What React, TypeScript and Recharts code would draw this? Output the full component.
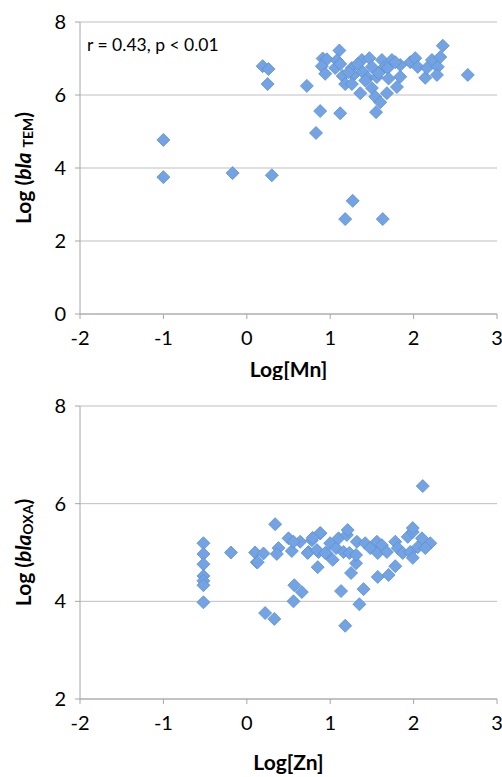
import React from 'react';
import { ScatterChart, Scatter, XAxis, YAxis, CartesianGrid } from 'recharts';

// Log[Mn] vs Log(bla TEM)
const mnX = [
  -1.0, -1.0, -0.17, 0.3, 1.27, 1.18, 1.63, 0.19, 0.26, 0.25, 0.72, 0.88, 1.12, 0.83, 1.55, 2.65, 2.35, 1.11,
  0.91, 0.96, 1.08, 0.9, 0.94, 1.06, 1.15, 1.18, 1.26, 1.28, 1.26, 1.38, 1.39, 1.47, 1.5, 1.45, 1.36, 1.5,
  1.56, 1.62, 1.64, 1.54, 1.6, 1.68, 1.8, 1.84, 1.69, 1.74, 1.84, 1.96, 2.02, 2.05, 2.14, 2.16, 2.22, 2.29,
  2.28, 2.32, 1.33, 1.42, 1.58, 1.22, 1.78, 1.12, 1.7,
];
const temY = [
  4.77, 3.75, 3.86, 3.8, 3.1, 2.6, 2.6, 6.79, 6.71, 6.3, 6.25, 5.56, 5.5, 4.96, 5.53, 6.55, 7.35, 7.22,
  7.0, 6.98, 6.95, 6.79, 6.58, 6.74, 6.52, 6.3, 6.74, 6.55, 6.3, 6.96, 6.63, 7.01, 6.77, 6.47, 6.05, 6.19,
  6.49, 6.96, 6.74, 5.95, 5.8, 6.05, 6.22, 6.5, 6.74, 6.96, 6.82, 6.9, 7.01, 6.77, 6.47, 6.74, 6.96, 6.77,
  6.55, 7.04, 6.85, 6.4, 6.6, 6.62, 6.9, 6.85, 6.45,
];

// Log[Zn] vs Log(bla OXA)
const znX = [
  -0.52, -0.52, -0.52, -0.52, -0.52, -0.52, -0.52, -0.19, 0.1, 0.12, 0.2, 0.22, 0.33, 0.34,
  0.57, 0.66, 0.56, 0.85, 1.13, 1.18, 1.35, 1.4, 1.25, 1.31, 1.57, 1.7, 1.78, 2.11,
  0.38, 0.5, 0.54, 0.64, 0.74, 0.78, 0.88, 0.86, 0.95, 1.0, 1.03, 1.07, 1.1, 1.2, 1.16, 1.23,
  1.32, 1.31, 1.42, 1.48, 1.56, 1.57, 1.62, 1.68, 1.78, 1.81, 1.87, 1.93, 1.96, 1.99, 1.99,
  2.05, 2.1, 2.2, 2.14, 1.99, 0.88, 1.21, 0.36, 0.73, 0.84, 0.94, 0.13, 0.79, 0.56,
];
const oxaY = [
  5.19, 4.97, 4.76, 4.52, 4.42, 4.33, 3.98, 5.0, 5.0, 4.8, 4.98, 3.76, 3.64, 5.58,
  4.33, 4.19, 4.0, 4.7, 4.21, 3.5, 3.94, 4.25, 4.58, 4.78, 4.5, 4.54, 4.72, 6.36,
  5.09, 5.29, 5.03, 5.22, 5.01, 5.25, 5.39, 5.01, 4.99, 5.19, 4.85, 5.09, 5.29, 5.36, 5.01, 4.99,
  5.22, 4.95, 5.19, 5.09, 5.22, 4.99, 5.15, 5.01, 5.22, 5.09, 4.99, 5.32, 5.01, 4.89, 5.42,
  5.11, 5.29, 5.19, 5.09, 5.5, 5.4, 5.46, 4.97, 4.99, 5.05, 4.99, 4.8, 5.3, 5.22,
];

const xTicks = [-2, -1, 0, 1, 2, 3];
const temTicks = [0, 2, 4, 6, 8];
const oxaTicks = [2, 4, 6, 8];

const mnData = mnX.map((x, i) => ({ x, y: temY[i] }));
const znData = znX.map((x, i) => ({ x, y: oxaY[i] }));

const FONT = 'Lato, "Open Sans", sans-serif';
const AXIS = '#a6a6a6';
const GRID = '#bfbfbf';

const Diamond = (p: any) => {
  const { cx, cy } = p;
  if (cx == null || cy == null) return null;
  const r = 6.5;
  return (
    <polygon
      points={`${cx},${cy - r} ${cx + r},${cy} ${cx},${cy + r} ${cx - r},${cy}`}
      fill="#73a3e3"
      stroke="#5a8fd3"
      strokeWidth={0.8}
    />
  );
};

const YTitle = ({ viewBox, sub, gap }: any) => {
  const cy = viewBox.y + viewBox.height / 2;
  return (
    <text
      x={22}
      y={cy}
      transform={`rotate(-90, 22, ${cy})`}
      textAnchor="middle"
      dominantBaseline="central"
      fontFamily={FONT}
      fontWeight="bold"
      fontSize={21}
      fill="#000"
    >
      Log (<tspan fontStyle="italic">bla</tspan>
      <tspan fontSize={14} dy={5} dx={gap ? 5 : 0}>{sub}</tspan>
      <tspan dy={-5}>)</tspan>
    </text>
  );
};

const XTitle = ({ viewBox, text, dy }: any) => (
  <text
    x={viewBox.x + viewBox.width / 2}
    y={viewBox.y + dy}
    textAnchor="middle"
    dominantBaseline="central"
    fontFamily={FONT}
    fontWeight="bold"
    fontSize={21}
    fill="#000"
  >
    {text}
  </text>
);

const tickStyle = { fontFamily: FONT, fontSize: 20, fill: '#000' };

export default function App() {
  return (
    <div style={{ position: 'absolute', left: 0, top: 0, width: 502, height: 777, background: '#fff' }}>
      <ScatterChart width={502} height={380} margin={{ top: 22, right: 5, bottom: 0, left: 0 }}>
        <CartesianGrid vertical={false} stroke={GRID} />
        <XAxis
          type="number"
          dataKey="x"
          domain={[-2, 3]}
          ticks={xTicks}
          height={66}
          stroke={AXIS}
          tickSize={5}
          tickMargin={12}
          tick={tickStyle}
          label={<XTitle text="Log[Mn]" dy={54} />}
        />
        <YAxis
          type="number"
          dataKey="y"
          domain={[0, 8]}
          ticks={temTicks}
          width={80}
          stroke={AXIS}
          tickSize={5}
          tickMargin={9}
          tick={tickStyle}
          label={<YTitle sub="TEM" gap />}
        />
        <Scatter data={mnData} shape={Diamond} isAnimationActive={false} />
      </ScatterChart>
      <div
        style={{
          position: 'absolute',
          left: 87,
          top: 34,
          fontFamily: FONT,
          fontSize: 17.5,
          color: '#000',
          whiteSpace: 'nowrap',
        }}
      >
        r = 0.43, p &lt; 0.01
      </div>
      <ScatterChart width={502} height={397} margin={{ top: 26, right: 5, bottom: 0, left: 0 }}>
        <CartesianGrid vertical={false} stroke={GRID} />
        <XAxis
          type="number"
          dataKey="x"
          domain={[-2, 3]}
          ticks={xTicks}
          height={78}
          stroke={AXIS}
          tickSize={5}
          tickMargin={12}
          tick={tickStyle}
          label={<XTitle text="Log[Zn]" dy={62} />}
        />
        <YAxis
          type="number"
          dataKey="y"
          domain={[2, 8]}
          ticks={oxaTicks}
          width={80}
          stroke={AXIS}
          tickSize={5}
          tickMargin={9}
          tick={tickStyle}
          label={<YTitle sub="OXA" />}
        />
        <Scatter data={znData} shape={Diamond} isAnimationActive={false} />
      </ScatterChart>
    </div>
  );
}
